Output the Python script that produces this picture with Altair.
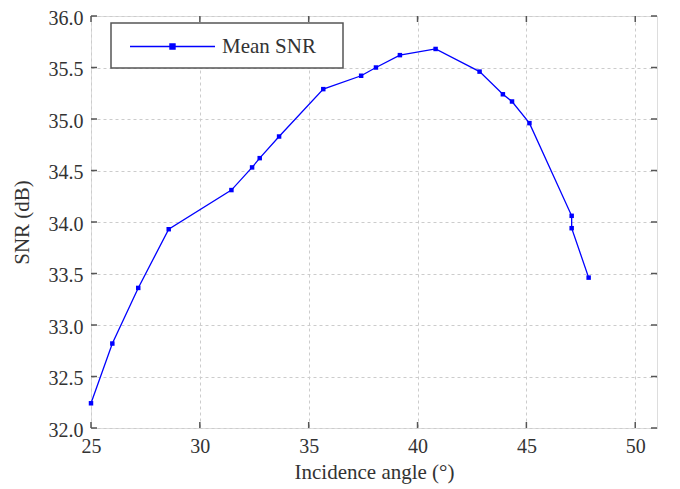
import altair as alt
import pandas as pd

angles = [25.0, 25.98, 27.17, 28.57, 31.45, 32.40, 32.75, 33.64, 35.67, 37.41,
          38.09, 39.19, 40.83, 42.85, 43.92, 44.34, 45.14, 47.08, 47.08, 47.86]
snr = [32.24, 32.82, 33.36, 33.93, 34.31, 34.53, 34.62, 34.83, 35.29, 35.42,
       35.50, 35.62, 35.68, 35.46, 35.24, 35.17, 34.96, 34.06, 33.94, 33.46]
series_name = "Mean SNR"
x_ticks = [25, 30, 35, 40, 45, 50]
y_ticks = [32.0, 32.5, 33.0, 33.5, 34.0, 34.5, 35.0, 35.5, 36.0]

W, H = 566, 412
FONT = "Liberation Serif"
TXT = "#333333"
BLUE = "#0000ff"

df = pd.DataFrame({"angle": angles, "snr": snr, "i": list(range(len(angles))),
                   "series": [series_name] * len(angles)})
xt = pd.DataFrame({"t": x_ticks})
yt = pd.DataFrame({"t": y_ticks})
box = pd.DataFrame({"series": [series_name]})

xscale = alt.Scale(domain=[25, 51], nice=False, zero=False)
yscale = alt.Scale(domain=[32, 36], nice=False, zero=False)

xaxis = alt.Axis(values=x_ticks, format="d", title="Incidence angle (°)", grid=True,
                 gridDash=[3, 3], gridColor="#cccccc", domain=False, ticks=False,
                 labelFlush=False, labelOverlap=False,
                 labelFont=FONT, labelFontSize=20, labelColor=TXT, labelPadding=8,
                 titleFont=FONT, titleFontSize=21, titleColor=TXT, titleFontWeight="normal",
                 titlePadding=5)
yaxis = alt.Axis(values=y_ticks, format=".1f", title="SNR (dB)", grid=True,
                 gridDash=[3, 3], gridColor="#cccccc", domain=False, ticks=False,
                 labelFlush=False, labelOverlap=False, labelOffset=2,
                 labelFont=FONT, labelFontSize=20, labelColor=TXT, labelPadding=8,
                 titleFont=FONT, titleFontSize=21, titleColor=TXT, titleFontWeight="normal",
                 titlePadding=16)

legend = alt.Legend(
    title=None, orient="none", legendX=37, legendY=20,
    symbolType="M-1,0H9M3.7,-0.3H4.3V0.3H3.7Z",
    symbolSize=289, symbolStrokeWidth=1.3, symbolFillColor=BLUE, symbolStrokeColor=BLUE,
    labelFont=FONT, labelFontSize=21, labelColor=TXT, labelOffset=73,
    padding=0,
)

frame = alt.Chart(box).mark_rect(fill="white", stroke="#555555", strokeWidth=1.5).encode(
    x=alt.value(20), x2=alt.value(252), y=alt.value(7), y2=alt.value(52))

line = alt.Chart(df).mark_line(
    strokeWidth=1.3,
    point=alt.OverlayMarkDef(shape="square", size=20, filled=True, color=BLUE),
).encode(
    x=alt.X("angle:Q", scale=xscale, axis=xaxis),
    y=alt.Y("snr:Q", scale=yscale, axis=yaxis),
    order="i:Q",
    color=alt.Color("series:N", scale=alt.Scale(range=[BLUE]), legend=legend),
)

tick_color = "#555555"
bt = alt.Chart(xt).mark_rule(color=tick_color, strokeWidth=1.5).encode(
    x=alt.X("t:Q", scale=xscale), y=alt.value(H), y2=alt.value(H - 6))
tt = alt.Chart(xt).mark_rule(color=tick_color, strokeWidth=1.5).encode(
    x=alt.X("t:Q", scale=xscale), y=alt.value(0), y2=alt.value(6))
lt = alt.Chart(yt).mark_rule(color=tick_color, strokeWidth=1.5).encode(
    y=alt.Y("t:Q", scale=yscale), x=alt.value(0), x2=alt.value(6))
rt = alt.Chart(yt).mark_rule(color=tick_color, strokeWidth=1.5).encode(
    y=alt.Y("t:Q", scale=yscale), x=alt.value(W), x2=alt.value(W - 6))

chart = alt.layer(bt, tt, lt, rt, frame, line).properties(
    width=W, height=H,
    autosize=alt.AutoSizeParams(type="none"),
    padding={"left": 83, "top": 8, "right": 10, "bottom": 60},
).configure_view(stroke="#666666", strokeWidth=2).configure(background="white")

chart.save("out.html", embed_options={"renderer": "svg", "actions": False})
